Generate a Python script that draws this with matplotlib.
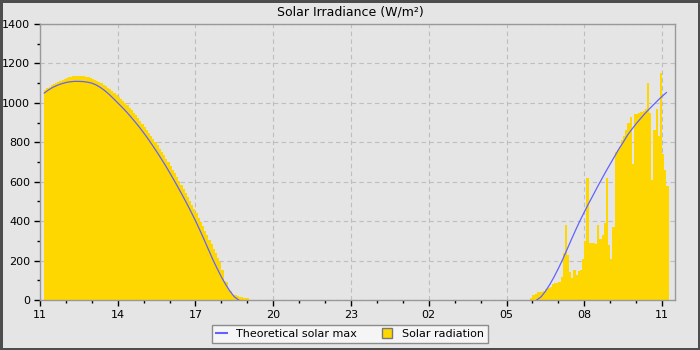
import pandas as pd
import matplotlib
matplotlib.use("Agg")
import matplotlib.pyplot as plt
import matplotlib.dates as mdates
from matplotlib.lines import Line2D

# ------------------------
# data (W/m2)
# ------------------------

# measured radiation, afternoon of day 1, 5 min bins from 11:10
rad_day1_start = "2024-06-01 11:10"
rad_day1 = [1066, 1074, 1082, 1089, 1096, 1102, 1108, 1113, 1118, 1122,
            1126, 1130, 1133, 1135, 1137, 1138, 1138, 1137, 1135, 1132, 1129, 1125,
            1121, 1116, 1111, 1105, 1099, 1092, 1085, 1077, 1069, 1060, 1051, 1042,
            1032, 1022, 1011, 1000, 988, 976, 963, 950, 937, 923, 909, 894,
            879, 864, 848, 833, 817, 801, 785, 768, 751, 734, 716, 698,
            680, 661, 642, 623, 604, 584, 564, 544, 524, 503, 482, 461,
            440, 418, 396, 374, 352, 329, 306, 283, 260, 236, 212, 195,
            150, 97, 92, 50, 48, 25, 24, 18, 17, 16, 12, 11,
            10]

# measured radiation, morning of day 2, 5 min bins from 05:55
rad_day2_start = "2024-06-02 05:55"
rad_day2 = [10, 25, 32, 38, 42, 42, 45, 55, 62, 65,
            80, 88, 88, 92, 115, 240, 380, 230, 140, 110,
            150, 125, 145, 150, 210, 300, 620, 290, 290, 290,
            285, 380, 310, 330, 390, 620, 280, 210, 370, 750,
            760, 775, 810, 830, 860, 900, 930, 690, 945, 945,
            950, 955, 960, 970, 1100, 950, 610, 860, 970, 830,
            1150, 740, 660, 580]

# theoretical clear sky max, 10 min steps
max_day1_start = "2024-06-01 11:10"
max_day1 = [1050, 1066, 1079, 1089, 1097, 1103, 1107, 1109, 1109, 1108,
            1105, 1100, 1091, 1078, 1062, 1043, 1022, 1000, 978, 955,
            930, 904, 877, 848, 818, 786, 753, 719, 684, 647,
            609, 570, 530, 489, 446, 402, 355, 306, 256, 206,
            160, 117, 78, 44, 16, 0]

max_day2_start = "2024-06-02 06:10"
max_day2 = [0, 16, 44, 78, 117, 160, 206, 256, 306, 355,
            402, 446, 489, 530, 572, 612, 652, 690, 728, 766,
            800, 836, 866, 894, 920, 945, 968, 990, 1012, 1033,
            1052]

BG = "#e5e5e5"
GOLD = "#ffd700"
BLUE = "#6262ff"

t_rad1 = pd.date_range(rad_day1_start, periods=len(rad_day1), freq="5min")
t_rad2 = pd.date_range(rad_day2_start, periods=len(rad_day2), freq="5min")
t_max1 = pd.date_range(max_day1_start, periods=len(max_day1), freq="10min")
t_max2 = pd.date_range(max_day2_start, periods=len(max_day2), freq="10min")

fig = plt.figure(figsize=(7, 3.5), dpi=100)
fig.patch.set_facecolor(BG)
fig.patch.set_edgecolor("#4d4d4d")
fig.patch.set_linewidth(3.5)

ax = fig.add_axes([0.0571, 0.1429, 0.9072, 0.7885])
ax.set_facecolor(BG)

ax.bar(t_rad1, rad_day1, width=5 / 1440, align="edge", color=GOLD, linewidth=0, zorder=2)
ax.bar(t_rad2, rad_day2, width=5 / 1440, align="edge", color=GOLD, linewidth=0, zorder=2)
ax.plot(t_max1, max_day1, color=BLUE, lw=0.9, zorder=3)
ax.plot(t_max2, max_day2, color=BLUE, lw=0.9, zorder=3)

ax.set_xlim(pd.Timestamp("2024-06-01 11:00"), pd.Timestamp("2024-06-02 11:30"))
ax.set_ylim(0, 1400)

ax.xaxis.set_major_locator(mdates.HourLocator(byhour=[2, 5, 8, 11, 14, 17, 20, 23]))
ax.xaxis.set_minor_locator(mdates.HourLocator())
ax.xaxis.set_major_formatter(mdates.DateFormatter("%H"))
ax.set_yticks(range(0, 1401, 200))
ax.set_yticks(range(100, 1400, 200), minor=True)

ax.tick_params(which="major", length=4, width=1, color="black", labelsize=8, pad=3)
ax.tick_params(which="minor", length=2, width=1, color="black")

ax.grid(True, which="major", color="#bebebe", linestyle=(0, (4, 3)), linewidth=0.8, zorder=1)
ax.set_axisbelow(True)
for sp in ax.spines.values():
    sp.set_color("#999999")
    sp.set_linewidth(1)

fig.suptitle("Solar Irradiance (W/m²)", y=0.985, fontsize=9)

handles = [
    Line2D([], [], color=BLUE, lw=1.5),
    Line2D([], [], marker="s", linestyle="none", markersize=7,
           markerfacecolor=GOLD, markeredgecolor="#777777"),
]
leg = fig.legend(handles, ["Theoretical solar max", "Solar radiation"],
                 loc="lower center", bbox_to_anchor=(0.5, 0.005), ncol=2,
                 fontsize=8, frameon=True, fancybox=False, handlelength=1,
                 columnspacing=2.2, borderpad=0.35, handletextpad=0.8)
leg.get_frame().set_facecolor("#f5f5f5")
leg.get_frame().set_edgecolor("#8c8c8c")
leg.get_frame().set_alpha(1)

fig.savefig("out.png", dpi=100)
